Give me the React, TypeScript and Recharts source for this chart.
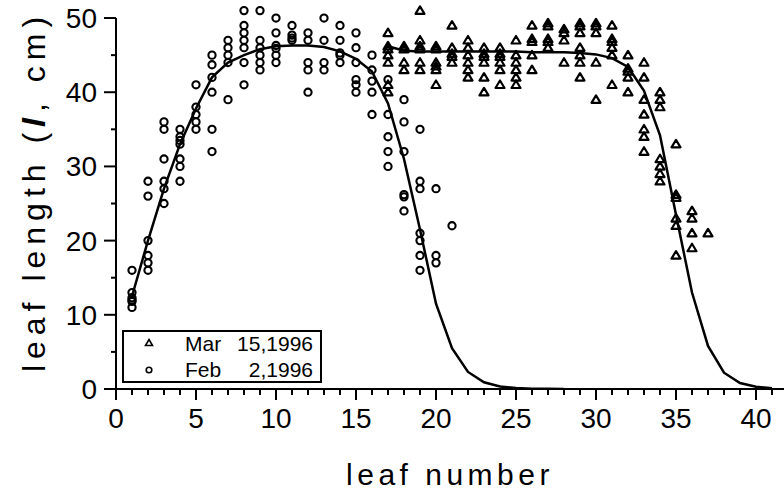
import React from "react";
import {
  ComposedChart,
  Scatter,
  Line,
  XAxis,
  YAxis,
  Legend,
  ReferenceLine,
  Label,
} from "recharts";

// measured leaf lengths (cm) per leaf number, two sampling dates
const febLeaves = [1, 2, 3, 4, 5, 6, 7, 8, 9, 10, 11, 12, 13, 14, 15, 16, 17, 18, 19, 20, 21];
const febLengths: number[][] = [
  [16, 13, 12.3, 12, 11.8, 11],
  [28, 26, 20, 18, 17, 16],
  [36, 35, 31, 28, 27, 25],
  [35, 34, 33.5, 33, 31, 30, 28],
  [41, 38, 37, 36, 35],
  [45, 43.7, 42, 40, 35, 32],
  [47, 46, 45, 44, 39],
  [51, 49, 48, 47, 46, 44, 41],
  [51, 47, 46, 45, 44, 43],
  [50, 48, 46.3, 45.9, 45, 44],
  [49, 47.7, 47.3, 47],
  [48, 47, 44, 43, 40],
  [50, 47, 44, 43],
  [49, 47, 45.3, 45, 44],
  [48, 46, 44, 41.7, 41, 40],
  [45, 43, 41.5, 40, 37],
  [41.7, 37, 34, 32, 30],
  [39, 36, 32, 26.2, 25.9, 24],
  [35, 28, 27, 21, 20, 18, 16],
  [27, 18, 17],
  [22],
];

const marLeaves = [17, 18, 19, 20, 21, 22, 23, 24, 25, 26, 27, 28, 29, 30, 31, 32, 33, 34, 35, 36, 37];
const marLengths: number[][] = [
  [48, 46.2, 45.8, 45, 44, 41, 40],
  [46.2, 45.8, 44, 43],
  [51, 47, 46.2, 45.8, 44, 43],
  [46.2, 45.8, 44, 43.5, 43, 41],
  [49, 46, 45.2, 44.8, 44],
  [47, 46, 45, 44, 43, 42],
  [46, 45.2, 44.8, 44, 42, 40],
  [46, 45.2, 44.8, 44, 43, 41],
  [47, 45, 44, 43, 42, 41],
  [49, 47.2, 46.8, 45, 43],
  [49.3, 48.9, 47.2, 46.8, 46],
  [48.5, 48, 47, 44],
  [49.3, 48.9, 48, 46, 45, 44, 42],
  [49.3, 48.9, 48, 44, 39],
  [49, 47.2, 46.8, 46, 45, 41],
  [45, 43.2, 42.8, 42, 40],
  [44, 42, 39, 37, 35, 34, 32],
  [40, 39, 38, 31, 30, 29, 28],
  [33, 26.2, 25.8, 23, 22, 18],
  [24, 23, 21, 19],
  [21],
];

// fitted curves, sampled at whole leaf numbers
const febFitLeaves = [1, 2, 3, 4, 5, 6, 7, 8, 9, 10, 11, 12, 13, 14, 15, 16, 17, 18, 19, 20, 21, 22, 23, 24, 25, 26, 27, 28];
const febFit = [12.5, 20, 27, 33, 37.8, 42, 44, 45, 45.8, 46.2, 46.3, 46.3, 46.1, 45.5, 44.5, 42.8, 38.5, 31, 21.5, 11.5, 5.5, 2.3, 0.9, 0.35, 0.12, 0.04, 0.02, 0.01];
const marFitLeaves = [17, 18, 19, 20, 21, 22, 23, 24, 25, 26, 27, 28, 29, 30, 31, 32, 33, 34, 35, 36, 37, 38, 39, 40, 41];
const marFit = [46.2, 45.6, 45.5, 45.5, 45.5, 45.5, 45.5, 45.5, 45.5, 45.4, 45.4, 45.4, 45.3, 45.1, 44.6, 43.4, 40.2, 34.2, 23.5, 13, 5.8, 2.2, 0.8, 0.3, 0.1];

const xTicks = [0, 1, 2, 3, 4, 5, 6, 7, 8, 9, 10, 11, 12, 13, 14, 15, 16, 17, 18, 19, 20, 21, 22, 23, 24, 25, 26, 27, 28, 29, 30, 31, 32, 33, 34, 35, 36, 37, 38, 39, 40, 41];
const yTicks = [0, 5, 10, 15, 20, 25, 30, 35, 40, 45, 50];

const toPoints = (leaves: number[], lengths: number[][]) =>
  leaves.flatMap((leaf, i) => lengths[i].map((len) => ({ leaf, len })));
const toCurve = (leaves: number[], values: number[]) =>
  leaves.map((leaf, i) => ({ leaf, len: values[i] }));

const febPoints = toPoints(febLeaves, febLengths);
const marPoints = toPoints(marLeaves, marLengths);
const febCurve = toCurve(febFitLeaves, febFit);
const marCurve = toCurve(marFitLeaves, marFit);

const FONT = "'Liberation Sans', Arial, sans-serif";

const Circle = (p: any) => (
  <circle cx={p.cx} cy={p.cy} r={3.6} fill="none" stroke="#000" strokeWidth={2.1} />
);

const Triangle = (p: any) => (
  <path
    d={`M${p.cx},${p.cy - 4.3} L${p.cx + 4.5},${p.cy + 3.2} L${p.cx - 4.5},${p.cy + 3.2} Z`}
    fill="none"
    stroke="#000"
    strokeWidth={2.2}
    strokeLinejoin="round"
  />
);

const XTick = (props: any) => {
  const { x, y, payload } = props;
  const major = payload.value % 5 === 0;
  return (
    <g>
      <line x1={x} y1={y} x2={x} y2={y + (major ? 11 : 6)} stroke="#000" strokeWidth={2} />
      {major && (
        <text x={x} y={y + 39} textAnchor="middle" fontSize={28} fontFamily={FONT} fill="#000">
          {payload.value}
        </text>
      )}
    </g>
  );
};

const YTick = (props: any) => {
  const { x, y, payload } = props;
  const major = payload.value % 10 === 0;
  return (
    <g>
      <line x1={x - (major ? 12 : 5)} y1={y} x2={x} y2={y} stroke="#000" strokeWidth={2} />
      {major && (
        <text x={x - 19} y={y} dy="0.36em" textAnchor="end" fontSize={28} fontFamily={FONT} fill="#000">
          {payload.value}
        </text>
      )}
    </g>
  );
};

const LegendBox = () => (
  <svg width={200} height={54} style={{ display: "block" }}>
    <rect x={1} y={1} width={198} height={51} fill="#fff" stroke="#000" strokeWidth={2} />
    <path d="M27,9.5 L30.5,15.5 L23.5,15.5 Z" fill="none" stroke="#000" strokeWidth={1.6} />
    <circle cx={27} cy={40} r={2.8} fill="none" stroke="#000" strokeWidth={1.6} />
    <g fontSize={21} fontFamily={FONT} fill="#000">
      <text x={63} y={21}>Mar</text>
      <text x={191} y={21} textAnchor="end">15,1996</text>
      <text x={63} y={47}>Feb</text>
      <text x={191} y={47} textAnchor="end">2,1996</text>
    </g>
  </svg>
);

export default function App() {
  return (
    <div style={{ position: "absolute", left: 0, top: 0, background: "#fff" }}>
      <ComposedChart width={784} height={493} margin={{ top: 0, right: 0, bottom: 0, left: 0 }}>
        <XAxis
          type="number"
          dataKey="leaf"
          domain={[0, 41.75]}
          ticks={xTicks}
          interval={0}
          tick={<XTick />}
          tickLine={false}
          tickSize={0}
          tickMargin={0}
          height={104}
          axisLine={{ stroke: "#000", strokeWidth: 2 }}
          allowDataOverflow
        >
          <Label
            content={(p: any) => {
              const vb = p.viewBox || { x: 116, y: 389, width: 668 };
              return (
                <text
                  x={vb.x + vb.width / 2}
                  y={vb.y + 96}
                  textAnchor="middle"
                  fontSize={30}
                  letterSpacing={4.5}
                  fontFamily={FONT}
                  fill="#000"
                >
                  leaf number
                </text>
              );
            }}
          />
        </XAxis>
        <YAxis
          type="number"
          dataKey="len"
          domain={[0, 52.43]}
          ticks={yTicks}
          interval={0}
          tick={<YTick />}
          tickLine={false}
          tickSize={0}
          tickMargin={0}
          width={116}
          axisLine={false}
          allowDataOverflow
        >
          <Label
            content={(p: any) => {
              const vb = p.viewBox || { x: 0, y: 0, height: 389 };
              const cx = vb.x + 45;
              const cy = vb.y + vb.height / 2 - 3;
              return (
                <text
                  transform={`translate(${cx},${cy}) rotate(-90)`}
                  textAnchor="middle"
                  fontSize={32}
                  letterSpacing={6}
                  fontFamily={FONT}
                  fill="#000"
                >
                  leaf length (
                  <tspan fontStyle="italic" fontWeight="bold">l</tspan>
                  , cm)
                </text>
              );
            }}
          />
        </YAxis>
        <ReferenceLine
          segment={[
            { x: 0, y: 0 },
            { x: 0, y: 50 },
          ]}
          stroke="#000"
          strokeWidth={2}
          ifOverflow="visible"
        />
        <Line
          data={febCurve}
          dataKey="len"
          type="linear"
          dot={false}
          stroke="#000"
          strokeWidth={2.5}
          isAnimationActive={false}
        />
        <Line
          data={marCurve}
          dataKey="len"
          type="linear"
          dot={false}
          stroke="#000"
          strokeWidth={2.5}
          isAnimationActive={false}
        />
        <Scatter name="Mar 15,1996" data={marPoints} dataKey="len" shape={Triangle} isAnimationActive={false} />
        <Scatter name="Feb 2,1996" data={febPoints} dataKey="len" shape={Circle} isAnimationActive={false} />
        <Legend
          layout="vertical"
          align="center"
          verticalAlign="middle"
          wrapperStyle={{ left: 122, top: 330, width: 200, height: 54 }}
          content={() => <LegendBox />}
        />
      </ComposedChart>
    </div>
  );
}
